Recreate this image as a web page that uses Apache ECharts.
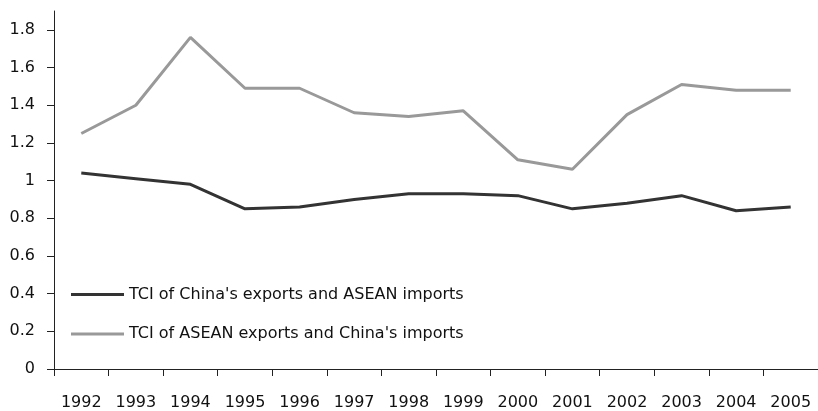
<!DOCTYPE html>
<html>
<head>
<meta charset="utf-8">
<script src="https://cdn.jsdelivr.net/npm/echarts@6/dist/echarts.min.js"></script>
<style>
html,body{margin:0;padding:0;background:#fff;}
#c{width:818px;height:411px;}
</style>
</head>
<body>
<div id="c"></div>
<script>
const years = ['1992','1993','1994','1995','1996','1997','1998','1999','2000','2001','2002','2003','2004','2005'];
const chinaExpAseanImp = [1.04,1.01,0.98,0.85,0.86,0.90,0.93,0.93,0.92,0.85,0.88,0.92,0.84,0.86];
const aseanExpChinaImp = [1.25,1.40,1.76,1.49,1.49,1.36,1.34,1.37,1.11,1.06,1.35,1.51,1.48,1.48];
const seriesNames = ["TCI of China's exports and ASEAN imports","TCI of ASEAN exports and China's imports"];

const FONT = '"DejaVu Sans",Verdana,sans-serif';
const chart = echarts.init(document.getElementById('c'), null, {renderer:'canvas'});
chart.setOption({
  animation:false,
  backgroundColor:'#fff',
  textStyle:{fontFamily:FONT},
  grid:{left:54,right:0,top:11,bottom:41.5,containLabel:false},
  legend:{
    orient:'vertical', left:71, top:286.5, itemGap:23.5, padding:0,
    icon:'rect', itemWidth:53, itemHeight:3,
    textStyle:{fontFamily:FONT,fontSize:16,color:'#111'},
    data:seriesNames
  },
  xAxis:{
    type:'category', data:years, boundaryGap:true,
    axisLine:{lineStyle:{color:'#222',width:1}},
    axisTick:{show:true,length:7,alignWithLabel:false,lineStyle:{color:'#222'}},
    axisLabel:{fontFamily:FONT,fontSize:16,color:'#111',margin:26}
  },
  yAxis:{
    type:'value', min:0, max:1.9, interval:0.2,
    splitLine:{show:false},
    axisLine:{show:true,lineStyle:{color:'#222',width:1}},
    axisTick:{show:true,length:7,lineStyle:{color:'#222'}},
    axisLabel:{fontFamily:FONT,fontSize:16,color:'#111',margin:19,showMaxLabel:false,
      formatter:v=>Math.abs(v-1.9)<1e-9?'':String(Math.round(v*10)/10)}
  },
  series:[
    {name:seriesNames[0],type:'line',data:chinaExpAseanImp,symbol:'none',
     color:'#333333',lineStyle:{color:'#333333',width:3}},
    {name:seriesNames[1],type:'line',data:aseanExpChinaImp,symbol:'none',
     color:'#999999',lineStyle:{color:'#999999',width:3}}
  ]
});
</script>
</body>
</html>
